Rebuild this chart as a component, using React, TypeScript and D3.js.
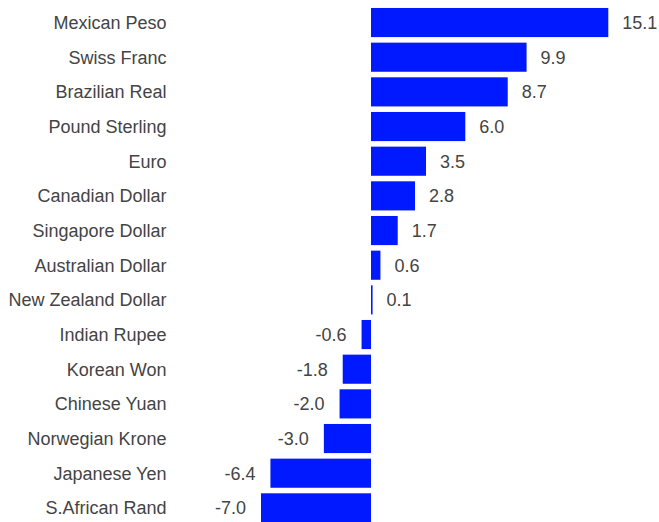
import React from "react";
import * as d3 from "d3";

const categories = [
  "Mexican Peso",
  "Swiss Franc",
  "Brazilian Real",
  "Pound Sterling",
  "Euro",
  "Canadian Dollar",
  "Singapore Dollar",
  "Australian Dollar",
  "New Zealand Dollar",
  "Indian Rupee",
  "Korean Won",
  "Chinese Yuan",
  "Norwegian Krone",
  "Japanese Yen",
  "S.African Rand",
];

const values = [15.1, 9.9, 8.7, 6.0, 3.5, 2.8, 1.7, 0.6, 0.1, -0.6, -1.8, -2.0, -3.0, -6.4, -7.0];

const W = 659;
const H = 522;

const fmt = d3.formatLocale({
  decimal: ".",
  thousands: ",",
  grouping: [3],
  currency: ["", ""],
  minus: "-",
}).format(".1f");

export default function App() {
  const x = d3.scaleLinear().domain([-7, 15.1]).range([261, 608.3]);
  const y = d3
    .scaleBand<string>()
    .domain(categories)
    .range([5.2, 525.2])
    .paddingInner(0.16)
    .paddingOuter(0.08);
  const textColor = "#444444";
  const font = "'Liberation Sans', Arial, sans-serif";
  return (
    <svg
      width={W}
      height={H}
      style={{ position: "absolute", left: 0, top: 0, background: "#fff" }}
      fontFamily={font}
    >
      {categories.map((c, i) => {
        const v = values[i];
        const y0 = y(c)!;
        const bw = y.bandwidth();
        const cy = y0 + bw / 2;
        const x0 = x(Math.min(0, v));
        const x1 = x(Math.max(0, v));
        return (
          <g key={c}>
            <text
              x={166.5}
              y={cy}
              dy="0.35em"
              textAnchor="end"
              fontSize={18}
              fill={textColor}
            >
              {c}
            </text>
            <rect x={x0} y={y0} width={Math.max(1, x1 - x0)} height={bw} fill="#0019ff" />
            <text
              x={v >= 0 ? x1 + 14 : x0 - 15}
              y={cy}
              dy="0.35em"
              textAnchor={v >= 0 ? "start" : "end"}
              fontSize={18}
              fill={textColor}
            >
              {fmt(v)}
            </text>
          </g>
        );
      })}
    </svg>
  );
}
